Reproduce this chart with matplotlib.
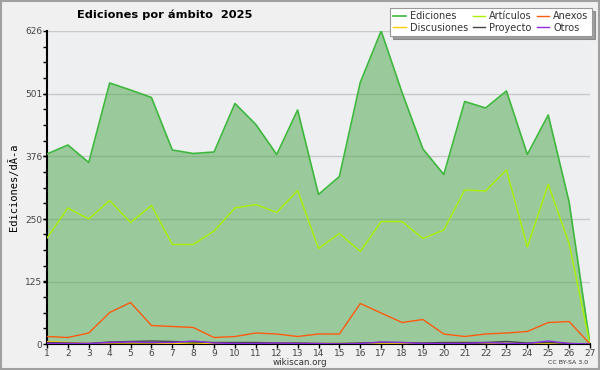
import numpy as np
import matplotlib
matplotlib.use("Agg")
import matplotlib.pyplot as plt
from matplotlib.ticker import MultipleLocator

# dias del mes
dias = list(range(1, 28))

ediciones = [380, 398, 363, 522, 508, 493, 388, 381, 384, 481, 439, 379, 468, 299,
             335, 523, 626, 503, 390, 339, 485, 472, 506, 379, 458, 284, 0]
articulos = [212, 272, 250, 287, 243, 277, 199, 199, 226, 272, 279, 263, 307, 191,
             221, 185, 245, 245, 211, 228, 308, 306, 348, 194, 319, 201, 0]
anexos = [15, 13, 22, 63, 83, 37, 35, 33, 13, 15, 22, 20, 15, 20,
          20, 81, 62, 43, 49, 20, 15, 20, 22, 25, 43, 45, 0]
discusiones = [5, 3, 1, 2, 2, 2, 1, 2, 1, 1, 1, 2, 1, 1,
               1, 1, 1, 1, 1, 2, 3, 2, 1, 1, 1, 1, 0]
proyecto = [3, 2, 1, 4, 5, 6, 5, 4, 3, 3, 3, 2, 2, 1,
            1, 2, 3, 3, 2, 3, 3, 3, 5, 2, 3, 1, 0]
otros = [1, 1, 1, 3, 4, 3, 3, 6, 2, 1, 1, 2, 1, 1,
         0, 1, 4, 3, 1, 1, 1, 3, 1, 1, 6, 1, 0]

y_ticks = [0, 125, 250, 376, 501, 626]

fig = plt.figure(figsize=(6, 3.7), dpi=100, facecolor="#f0f0f0")
ax = fig.add_axes([47/600, 1-344/370, 543/600, 313/370])
ax.set_facecolor("#eeeff0")

ax.fill_between(dias, ediciones, 0, color="#48a748", alpha=0.5, lw=0, zorder=2)
ax.plot(dias, ediciones, color="#3db83d", lw=1.2, label="Ediciones", zorder=3)
ax.plot(dias, articulos, color="#aaf000", lw=1, label="Artículos", zorder=3)
ax.plot(dias, anexos, color="#ff5a10", lw=1, label="Anexos", zorder=3)
ax.plot(dias, discusiones, color="#ffcc00", lw=1, label="Discusiones", zorder=3)
ax.plot(dias, proyecto, color="#444444", lw=1, label="Proyecto", zorder=3)
ax.plot(dias, otros, color="#8a2be2", lw=1, label="Otros", zorder=3)

ax.set_xlim(1, 27)
ax.set_ylim(0, 626)
ax.set_xticks(dias)
ax.set_yticks(y_ticks)
ax.yaxis.set_minor_locator(MultipleLocator(626/20))
ax.grid(axis="y", color="#c8c8c8", lw=1, zorder=1)
ax.set_axisbelow(True)
ax.tick_params(axis="both", which="major", labelsize=6.5, length=3, width=1,
               labelcolor="#444444", pad=0.5)
ax.tick_params(axis="y", which="minor", length=3, width=1)
for s in ["top", "right"]:
    ax.spines[s].set_visible(False)
for s in ["left", "bottom"]:
    ax.spines[s].set_linewidth(1.5)
ax.set_ylabel("Ediciones/dÃ-a", fontsize=7.5, family="DejaVu Sans Mono", labelpad=4)

fig.text(165/600, 1-15/370, "Ediciones por ámbito  2025", fontsize=8.2,
         fontweight="bold", ha="center", va="center")
fig.text(300/600, 1-362.5/370, "wikiscan.org", fontsize=6.3, ha="center",
         va="center", color="#333333")
fig.text(568/600, 1-362.5/370, "CC BY-SA 3.0", fontsize=4.5, ha="center",
         va="center", color="#333333")

h, l = ax.get_legend_handles_labels()
orden = [0, 3, 1, 4, 2, 5]
leg = fig.legend([h[i] for i in orden], [l[i] for i in orden], ncol=3,
                 loc="upper right", bbox_to_anchor=(592/600, 1-8/370),
                 fontsize=7, frameon=True, fancybox=False, shadow=True,
                 handlelength=1.3, handletextpad=0.4, columnspacing=0.5,
                 labelspacing=0.15, borderpad=0.35, borderaxespad=0,
                 labelcolor="#333333")
leg.get_frame().set_edgecolor("#999999")
leg.get_frame().set_linewidth(0.8)

fig.patches.append(plt.Rectangle((0.002, 0.003), 0.996, 0.994, transform=fig.transFigure,
                                 fill=False, edgecolor="#a0a0a0", lw=1.5))

fig.savefig("out.png", dpi=100, facecolor=fig.get_facecolor())
